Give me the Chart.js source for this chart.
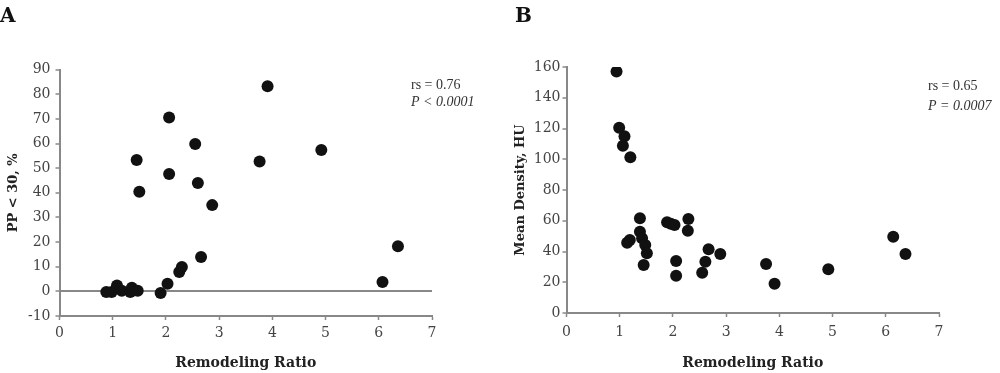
<!DOCTYPE html>
<html>
<head>
<meta charset="utf-8">
<script src="https://cdn.jsdelivr.net/npm/chart.js@4.4.0/dist/chart.umd.min.js"></script>
<style>
  body { margin: 0; background: #fff; }
  .panel { position: absolute; top: 0; }
</style>
</head>
<body>
<canvas id="chartA" class="panel" width="500" height="373" style="left:0"></canvas>
<canvas id="chartB" class="panel" width="500" height="373" style="left:500px"></canvas>
<script>
// panel A: remodeling ratio vs PP < 30, %
const ratioA = [0.88, 0.98, 1.08, 1.17, 1.33, 1.36, 1.47, 1.90, 2.03, 2.25, 2.30, 2.66, 2.87, 1.50, 2.60, 2.06, 1.45, 2.55, 2.06, 3.76, 3.91, 4.92, 6.07, 6.36];
const ppA = [-0.3, -0.3, 2.4, 0.2, -0.3, 1.5, 0.2, -0.7, 3.1, 7.9, 9.9, 13.9, 35.0, 40.4, 44.0, 47.6, 53.3, 59.8, 70.6, 52.7, 83.2, 57.4, 3.8, 18.3];

// panel B: remodeling ratio vs mean density, HU
const ratioB = [0.94, 0.99, 1.09, 1.06, 1.20, 1.38, 1.38, 1.14, 1.19, 1.42, 1.48, 1.51, 1.45, 1.89, 1.96, 2.03, 2.29, 2.28, 2.06, 2.06, 2.55, 2.61, 2.67, 2.89, 3.75, 3.91, 4.92, 6.14, 6.37];
const densityB = [157, 120.5, 115, 108.8, 101.3, 61.6, 52.9, 45.7, 47.5, 48.6, 44.2, 38.8, 31.2, 59, 58, 57.2, 61.1, 53.5, 33.8, 24.3, 26.2, 33.4, 41.4, 38.4, 31.9, 19.1, 28.4, 49.6, 38.4];

const xTitle = "Remodeling Ratio";
const yTitleA = "PP < 30, %";
const yTitleB = "Mean Density, HU";
const statsA = ["rs = 0.76", "P < 0.0001"];
const statsB = ["rs = 0.65", "P = 0.0007"];

Chart.defaults.font.family = "'DejaVu Serif', serif";
Chart.defaults.color = "#444";

const notes = {
  id: "notes",
  afterDraw(chart, args, opts) {
    const ctx = chart.ctx;
    ctx.save();
    ctx.fillStyle = "#111";
    ctx.font = "bold 20px 'DejaVu Serif'";
    ctx.fillText(opts.letter, opts.letterX, 22);
    ctx.fillStyle = "#333";
    ctx.font = "14px 'Liberation Serif'";
    ctx.fillText(opts.stats[0], opts.x, opts.y1);
    ctx.font = "italic 14px 'Liberation Serif'";
    ctx.fillText(opts.stats[1], opts.x, opts.y2);
    ctx.restore();
  }
};

function makeChart(id, xs, ys, cfg) {
  const points = xs.map((x, i) => ({ x: x, y: ys[i] }));
  return new Chart(document.getElementById(id), {
    type: "scatter",
    data: {
      datasets: [{
        data: points,
        backgroundColor: "#111",
        borderWidth: 0,
        pointRadius: 6,
        pointHoverRadius: 6
      }]
    },
    options: {
      responsive: false,
      animation: false,
      layout: { padding: cfg.padding },
      plugins: {
        legend: { display: false },
        tooltip: { enabled: false },
        notes: cfg.notes
      },
      scales: {
        x: {
          type: "linear",
          min: 0,
          max: 7,
          afterFit: (s) => { s.height = cfg.xHeight; },
          ticks: { stepSize: 1, padding: cfg.xTickPad, font: { size: 14 } },
          grid: { drawOnChartArea: false, tickLength: 4, tickColor: "#888", tickWidth: 1.5 },
          border: { color: "#888", width: 2 },
          title: { display: true, text: xTitle, font: { size: 14, weight: "bold" }, color: "#222", padding: { top: 0, bottom: 1 } }
        },
        y: {
          min: cfg.yMin,
          max: cfg.yMax,
          afterFit: (s) => { s.width = cfg.yWidth; },
          ticks: { stepSize: cfg.yStep, padding: cfg.yTickPad, font: { size: 14 } },
          grid: {
            drawOnChartArea: cfg.zeroLine,
            color: (c) => (c.tick && c.tick.value === 0 ? "#888" : "rgba(0,0,0,0)"),
            lineWidth: 2,
            tickLength: 4,
            tickColor: "#888",
            tickWidth: 1.5
          },
          border: { color: "#888", width: 2 },
          title: { display: true, text: cfg.yTitle, font: { size: 13, weight: "bold" }, color: "#222", padding: { top: cfg.yTitlePad, bottom: 0 } }
        }
      }
    },
    plugins: [notes]
  });
}

makeChart("chartA", ratioA, ppA, {
  padding: { left: 0, right: 68, top: 69.6, bottom: 0 },
  xHeight: 57, yWidth: 59.5,
  xTickPad: 5, yTickPad: 5,
  yMin: -10, yMax: 90, yStep: 10,
  yTitle: yTitleA, yTitlePad: 6,
  zeroLine: true,
  notes: { letter: "A", letterX: 0, stats: statsA, x: 411, y1: 89, y2: 106 }
});

makeChart("chartB", ratioB, densityB, {
  padding: { left: 0, right: 61, top: 67, bottom: 0 },
  xHeight: 60, yWidth: 66.5,
  xTickPad: 6.5, yTickPad: 2,
  yMin: 0, yMax: 160, yStep: 20,
  yTitle: yTitleB, yTitlePad: 13,
  zeroLine: false,
  notes: { letter: "B", letterX: 15, stats: statsB, x: 428, y1: 90, y2: 110 }
});
</script>
</body>
</html>
